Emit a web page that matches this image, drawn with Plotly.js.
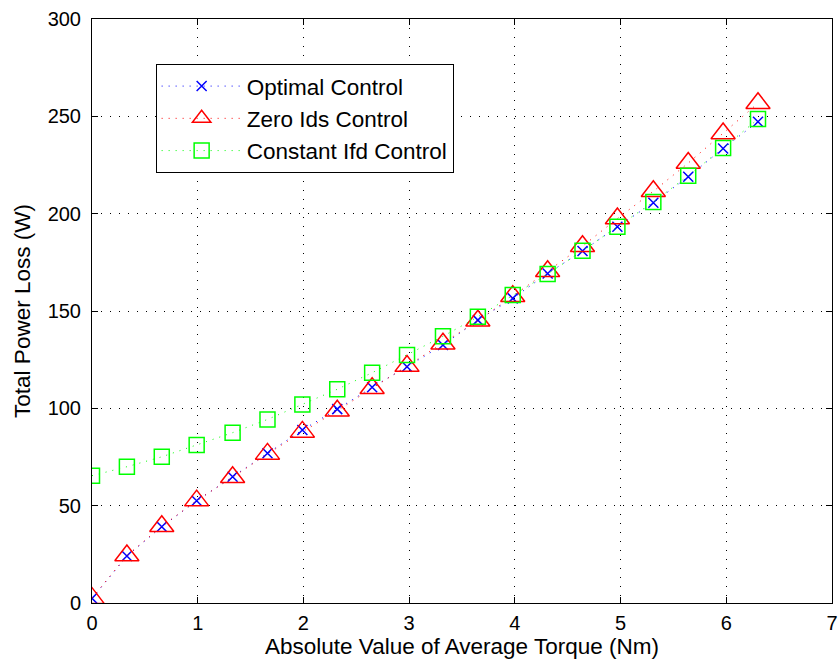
<!DOCTYPE html>
<html>
<head>
<meta charset="utf-8">
<script src="https://cdn.plot.ly/plotly-3.0.1.min.js"></script>
<style>html,body{margin:0;padding:0;background:#fff}#chart{width:840px;height:665px}</style>
</head>
<body>
<div id="chart"></div>
<script>
const torque = [0, 0.33, 0.66, 0.99, 1.33, 1.66, 1.99, 2.32, 2.65, 2.98, 3.32, 3.65, 3.98, 4.31, 4.64, 4.97, 5.31, 5.64, 5.97, 6.30];
const optimalLoss = [2.4, 24.1, 39.2, 52.5, 64.9, 76.9, 88.9, 99.6, 110.8, 121.4, 132.5, 145.3, 156.5, 169.3, 180.8, 193.3, 205.6, 219.0, 233.5, 247.2];
const zeroIdsLoss = [2.5, 24.4, 39.4, 52.6, 64.6, 76.6, 87.9, 98.8, 110.3, 121.7, 133.2, 145.0, 157.6, 170.4, 183.3, 197.5, 211.5, 226.0, 241.2, 256.7];
const constIfdLoss = [65.4, 70.0, 75.1, 81.2, 87.5, 94.3, 102.0, 109.8, 118.3, 127.4, 137.0, 147.0, 158.2, 169.0, 181.0, 193.3, 206.0, 219.5, 233.7, 248.6];
const seriesNames = ["Optimal Control", "Zero Ids Control", "Constant Ifd Control"];
const xTicks = [0, 1, 2, 3, 4, 5, 6, 7];
const yTicks = [0, 50, 100, 150, 200, 250, 300];

const fam = "Liberation Sans, Arial, sans-serif";
const tickFont = {family: fam, size: 20, color: "#000"};
const titleFont = {family: fam, size: 22.5, color: "#000"};

const traces = [
  {x: torque, y: optimalLoss, name: seriesNames[0], type: "scatter", mode: "lines+markers",
   line: {color: "#0000ff", width: 1, dash: "1px,6px"},
   marker: {symbol: "x-thin-open", size: 10, color: "#0000ff", line: {color: "#0000ff", width: 1.5}}},
  {x: torque, y: zeroIdsLoss, name: seriesNames[1], type: "scatter", mode: "lines+markers",
   line: {color: "#ff0000", width: 1, dash: "1px,6px"},
   marker: {symbol: "triangle-up-open", size: 21, color: "#ff0000", line: {color: "#ff0000", width: 1.5}}},
  {x: torque, y: constIfdLoss, name: seriesNames[2], type: "scatter", mode: "lines+markers",
   line: {color: "#00ff00", width: 1, dash: "1px,6px"},
   marker: {symbol: "square-open", size: 15, color: "#00ff00", line: {color: "#00ff00", width: 1.5}}}
];

const axisCommon = {
  showline: true, linecolor: "#000", linewidth: 1, mirror: "ticks",
  ticks: "inside", ticklen: 6, tickcolor: "#000", tickwidth: 1,
  showgrid: true, gridcolor: "#000", gridwidth: 1, griddash: "1px,8px",
  zeroline: false, tickfont: tickFont
};

const layout = {
  width: 840, height: 665,
  margin: {l: 92, r: 8, t: 19, b: 62},
  paper_bgcolor: "#fff", plot_bgcolor: "#fff",
  font: titleFont,
  showlegend: true,
  legend: {x: 0.086, y: 0.923, xanchor: "left", yanchor: "top",
           bordercolor: "#000", borderwidth: 1, bgcolor: "#fff",
           font: titleFont, tracegroupgap: 0, itemsizing: "trace", itemwidth: 80},
  xaxis: Object.assign({}, axisCommon, {
    range: [0, 7], tickvals: xTicks, ticktext: xTicks.map(String),
    ticklabelstandoff: 2,
    title: {text: "Absolute Value of Average Torque (Nm)", font: titleFont, standoff: 5}
  }),
  yaxis: Object.assign({}, axisCommon, {
    range: [0, 300], tickvals: yTicks, ticktext: yTicks.map(String),
    ticklabelstandoff: 6,
    title: {text: "Total Power Loss (W)", font: titleFont, standoff: 10}
  })
};

Plotly.newPlot("chart", traces, layout, {displayModeBar: false, staticPlot: true});
</script>
</body>
</html>
